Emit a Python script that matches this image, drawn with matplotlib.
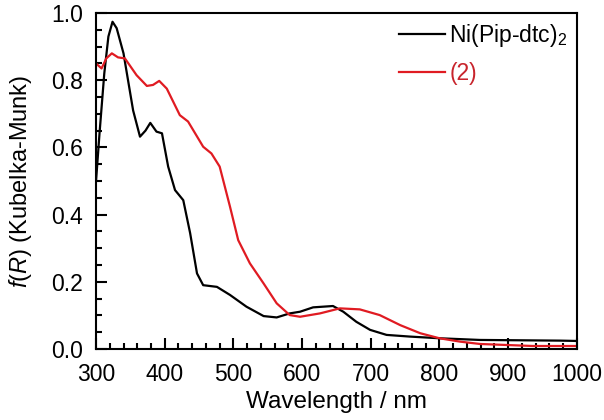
import numpy as np
import matplotlib
matplotlib.use("Agg")
import matplotlib.pyplot as plt
from matplotlib.ticker import MultipleLocator

plt.rcParams['font.family'] = ['Liberation Sans', 'DejaVu Sans']
plt.rcParams['mathtext.fontset'] = 'custom'
plt.rcParams['mathtext.it'] = 'Liberation Sans:italic'
plt.rcParams['mathtext.rm'] = 'Liberation Sans'

# Ni(Pip-dtc)2
wl_ni = [300, 305, 312, 318, 324, 330, 340, 354, 364, 372, 379, 388, 396, 405, 415, 427,
         437, 447, 456, 476, 495, 519, 544, 563, 582, 597, 616, 645, 660, 679, 699,
         723, 757, 800, 859, 975, 1000]
fr_ni = [0.50, 0.64, 0.82, 0.93, 0.974, 0.955, 0.88, 0.71, 0.632, 0.65, 0.673, 0.647, 0.642,
         0.543, 0.473, 0.443, 0.345, 0.225, 0.19, 0.185, 0.161, 0.126, 0.098, 0.094,
         0.106, 0.111, 0.124, 0.128, 0.111, 0.081, 0.057, 0.042, 0.037, 0.032, 0.027,
         0.025, 0.024]

# compound (2)
wl_2 = [300, 308, 315, 323, 332, 342, 359, 374, 383, 392, 403, 422, 434, 456, 468, 480,
        495, 507, 524, 544, 563, 582, 597, 626, 655, 684, 713, 743, 772, 800, 830,
        859, 936, 1000]
fr_2 = [0.85, 0.835, 0.865, 0.88, 0.868, 0.865, 0.815, 0.783, 0.786, 0.798, 0.775, 0.696,
        0.677, 0.602, 0.582, 0.543, 0.424, 0.324, 0.255, 0.195, 0.136, 0.101, 0.096,
        0.106, 0.121, 0.118, 0.101, 0.071, 0.047, 0.032, 0.022, 0.015, 0.009, 0.009]

fig = plt.figure(figsize=(6.04, 4.2), dpi=100)
ax = fig.add_axes([0.159, 0.169, 0.796, 0.8])

ax.plot(wl_ni, fr_ni, color="black", lw=1.6, label="Ni(Pip-dtc)$_2$")
ax.plot(wl_2, fr_2, color="#e01b22", lw=1.6, label="(2)")

ax.set_xlim(300, 1000)
ax.set_ylim(0, 1.0)
ax.xaxis.set_major_locator(MultipleLocator(100))
ax.xaxis.set_minor_locator(MultipleLocator(20))
ax.yaxis.set_major_locator(MultipleLocator(0.2))
ax.yaxis.set_minor_locator(MultipleLocator(0.05))
ax.tick_params(which="both", direction="in", top=False, right=False, labelsize=16.5, width=1.5)
ax.tick_params(axis="x", which="major", length=8, pad=10)
ax.tick_params(axis="y", which="major", length=8, pad=9.5)
ax.tick_params(which="minor", length=4)
for s in ax.spines.values():
    s.set_linewidth(1.5)

ax.set_xlabel("Wavelength / nm", fontsize=17.5, labelpad=4)
ax.set_ylabel("$f$($R$) (Kubelka-Munk)", fontsize=17, labelpad=12)

leg = ax.legend(loc="upper right", frameon=False, fontsize=16.5, handlelength=2.0,
                handletextpad=0.2, labelspacing=0.55, labelcolor="linecolor",
                borderaxespad=0.2, borderpad=0.2)
leg.get_texts()[1].set_color("#c8242c")

fig.savefig("out.png", dpi=100)
